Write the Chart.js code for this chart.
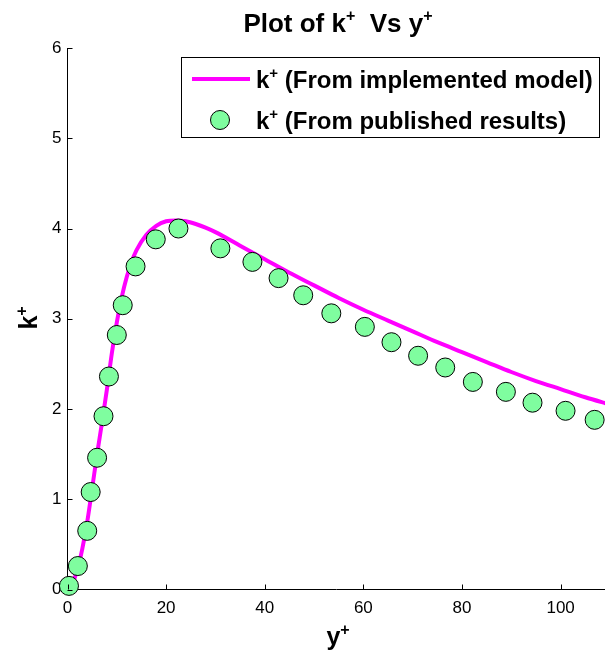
<!DOCTYPE html>
<html>
<head>
<meta charset="utf-8">
<script src="https://cdn.jsdelivr.net/npm/chart.js@4/dist/chart.umd.min.js"></script>
<style>
  html,body{margin:0;padding:0;background:#fff;}
  #wrap{width:605px;height:660px;position:relative;}
</style>
</head>
<body>
<div id="wrap"><canvas id="chart" width="605" height="660"></canvas></div>
<script>
// model curve k+ vs y+
const modelY = [0,1,2,3,4,5,6,7,8,9,10,11,12,13,14,16,18,20,22,24,26,28,30,35,40,45,50,55,60,65,70,75,80,85,90,95,100,105,110];
const modelK = [0,0.07,0.22,0.45,0.75,1.12,1.5,1.85,2.22,2.62,2.96,3.24,3.46,3.63,3.76,3.93,4.03,4.08,4.09,4.08,4.05,4.01,3.96,3.81,3.66,3.51,3.37,3.23,3.1,2.98,2.86,2.74,2.63,2.52,2.41,2.31,2.22,2.13,2.05];

// published points
const pubY = [0.3,2.1,4.0,4.7,6.0,7.3,8.4,10.0,11.2,13.8,17.9,22.5,31.0,37.5,42.8,47.8,53.5,60.3,65.7,71.1,76.6,82.2,88.9,94.3,101.0,106.9];
const pubK = [0.04,0.26,0.65,1.08,1.46,1.92,2.36,2.82,3.15,3.58,3.88,4.0,3.78,3.63,3.45,3.26,3.06,2.91,2.74,2.59,2.46,2.30,2.19,2.07,1.98,1.88];

const xTicks = [0,20,40,60,80,100];
const yTicks = [0,1,2,3,4,5,6];

const FONT = '"Liberation Sans", Arial, sans-serif';
const lineColor = '#ff00ff';
const dotColor = '#7ffd9f';

// text with superscripts: parts = [[text, isSup], ...]
function richWidth(ctx, parts, size){
  let w = 0;
  parts.forEach(p=>{
    ctx.font = 'bold ' + (p[1] ? Math.round(size*0.62) : size) + 'px ' + FONT;
    w += ctx.measureText(p[0]).width;
  });
  return w;
}
function drawRich(ctx, parts, x, y, size, align){
  let w = richWidth(ctx, parts, size);
  let cx = align === 'center' ? x - w/2 : x;
  ctx.textBaseline = 'alphabetic';
  ctx.textAlign = 'left';
  parts.forEach(p=>{
    ctx.font = 'bold ' + (p[1] ? Math.round(size*0.62) : size) + 'px ' + FONT;
    ctx.fillText(p[0], cx, p[1] ? y - size*0.42 : y);
    cx += ctx.measureText(p[0]).width;
  });
}

const decor = {
  id: 'decor',
  afterDraw(chart){
    const ctx = chart.ctx;
    const xs = chart.scales.x, ys = chart.scales.y;
    const ca = chart.chartArea;
    ctx.save();
    ctx.fillStyle = '#000';
    ctx.strokeStyle = '#000';
    ctx.lineWidth = 1;

    // inward ticks
    ctx.beginPath();
    xTicks.forEach(v=>{
      const px = Math.round(xs.getPixelForValue(v)) + 0.5;
      ctx.moveTo(px, ca.bottom); ctx.lineTo(px, ca.bottom - 5);
    });
    yTicks.forEach(v=>{
      const py = Math.round(ys.getPixelForValue(v)) + 0.5;
      ctx.moveTo(ca.left, py); ctx.lineTo(ca.left + 5, py);
    });
    ctx.stroke();

    // title
    drawRich(ctx, [['Plot of k',0],['+',1],['  Vs y',0],['+',1]], 338, 32, 26, 'center');

    // axis titles
    drawRich(ctx, [['y',0],['+',1]], 338, 645, 25, 'center');
    ctx.save();
    ctx.translate(37, 318);
    ctx.rotate(-Math.PI/2);
    drawRich(ctx, [['k',0],['+',1]], 0, 0, 25, 'center');
    ctx.restore();

    // legend
    const lx = 181, ly = 57, lw = 418, lh = 80;
    ctx.fillStyle = '#fff';
    ctx.fillRect(lx, ly, lw, lh);
    ctx.strokeRect(lx + 0.5, ly + 0.5, lw, lh);
    ctx.strokeStyle = lineColor;
    ctx.lineWidth = 4;
    ctx.beginPath();
    ctx.moveTo(192, 79); ctx.lineTo(250, 79);
    ctx.stroke();
    ctx.beginPath();
    ctx.arc(220, 120, 9.5, 0, Math.PI*2);
    ctx.fillStyle = dotColor;
    ctx.fill();
    ctx.strokeStyle = '#000';
    ctx.lineWidth = 1;
    ctx.stroke();
    ctx.fillStyle = '#000';
    drawRich(ctx, [['k',0],['+',1],[' (From implemented model)',0]], 256, 88, 24, 'left');
    drawRich(ctx, [['k',0],['+',1],[' (From published results)',0]], 256, 129, 24, 'left');
    ctx.restore();
  }
};

new Chart(document.getElementById('chart'), {
  type: 'scatter',
  data: {
    datasets: [
      {
        type: 'line',
        label: 'model',
        data: modelY.map((v,i)=>({x:v, y:modelK[i]})),
        borderColor: lineColor,
        borderWidth: 4,
        pointRadius: 0,
        cubicInterpolationMode: 'monotone',
        fill: false,
        order: 2
      },
      {
        label: 'published',
        data: pubY.map((v,i)=>({x:v, y:pubK[i]})),
        backgroundColor: dotColor,
        borderColor: '#000',
        borderWidth: 1,
        pointRadius: 9.5,
        clip: false,
        order: 1
      }
    ]
  },
  options: {
    responsive: false,
    animation: false,
    events: [],
    layout: { autoPadding: false, padding: { top: 48, right: 0, left: 0, bottom: 0 } },
    plugins: { legend: { display: false }, title: { display: false }, tooltip: { enabled: false } },
    scales: {
      x: {
        type: 'linear', min: 0, max: 109,
        grid: { display: false, drawTicks: false },
        border: { display: true, color: '#000', width: 1 },
        ticks: { color: '#000', font: { family: FONT, size: 17 }, padding: 9, maxRotation: 0 },
        afterBuildTicks: s => { s.ticks = xTicks.map(v=>({value:v})); },
        afterFit: s => { s.height = 70.5; s.paddingLeft = 0; s.paddingRight = 0; }
      },
      y: {
        type: 'linear', min: 0, max: 6,
        grid: { display: false, drawTicks: false },
        border: { display: true, color: '#000', width: 1 },
        ticks: { color: '#000', font: { family: FONT, size: 17 }, padding: 6 },
        afterBuildTicks: s => { s.ticks = yTicks.map(v=>({value:v})); },
        afterFit: s => { s.width = 67.5; s.paddingTop = 0; s.paddingBottom = 0; }
      }
    }
  },
  plugins: [decor]
});
</script>
</body>
</html>
